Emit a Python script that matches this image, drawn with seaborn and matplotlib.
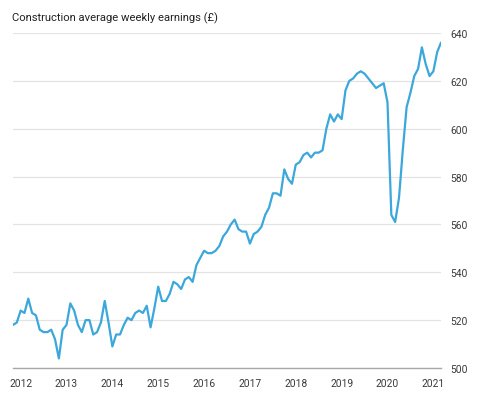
import numpy as np
import pandas as pd
import seaborn as sns
import matplotlib
matplotlib.use("Agg")
import matplotlib.pyplot as plt

title = "Construction average weekly earnings (£)"
start_year = 2011 + 10 / 12  # first observation (Nov 2011)
earnings = [
    518, 519, 524, 523, 529, 523, 522, 516, 515, 515, 516, 512,
    504, 516, 518, 527, 524, 518, 515, 520, 520, 514, 515, 519,
    528, 519, 509, 514, 514, 518, 521, 520, 523, 524, 523, 526,
    517, 525, 534, 528, 528, 531, 536, 535, 533, 537, 538, 536,
    543, 546, 549, 548, 548, 549, 551, 555, 557, 560, 562, 558,
    557, 557, 552, 556, 557, 559, 564, 567, 573, 573, 572, 583,
    579, 577, 585, 586, 589, 590, 588, 590, 590, 591, 600, 606,
    603, 606, 604, 616, 620, 621, 623, 624, 623, 621, 619, 617,
    618, 619, 611, 564, 561, 571, 591, 609, 615, 622, 625, 634,
    627, 622, 624, 632, 636,
]
year_ticks = list(range(2012, 2022))
y_ticks = [500, 520, 540, 560, 580, 600, 620, 640]

df = pd.DataFrame({
    "year": [start_year + i / 12 for i in range(len(earnings))],
    "earnings": earnings,
})

sns.set_theme(style="white")
plt.rcParams["font.family"] = ["Roboto", "DejaVu Sans"]

fig = plt.figure(figsize=(4.8, 4.02), dpi=100)
ax = fig.add_axes([13 / 480, 33 / 402, (441 - 13) / 480, (369 - 34) / 402])

sns.lineplot(data=df, x="year", y="earnings", ax=ax, color="#3ba7db",
             linewidth=1.6, zorder=3)

ax.set_xlim(df["year"].iloc[0], df["year"].iloc[-1])
ax.set_ylim(500, 640)
ax.set_yticks(y_ticks)
ax.set_xticks(year_ticks)
ax.set_xticklabels([str(y) for y in year_ticks])
ax.yaxis.tick_right()
ax.grid(axis="y", color="#e3e3e3", linewidth=0.9, zorder=0)
ax.grid(axis="x", visible=False)
for s in ["top", "left", "right"]:
    ax.spines[s].set_visible(False)
ax.spines["bottom"].set_color("#a8a8a8")
ax.spines["bottom"].set_linewidth(1.0)
ax.tick_params(axis="y", length=0, pad=7, labelsize=7.4, labelcolor="#3a3a3a")
ax.tick_params(axis="x", length=0, pad=7, labelsize=7.4, labelcolor="#3a3a3a")
ax.set_xlabel("")
ax.set_ylabel("")

fig.text(12 / 480, 1 - 18 / 402, title, fontsize=8.1, color="#222222",
         ha="left", va="center")

fig.savefig("out.png", dpi=100)
